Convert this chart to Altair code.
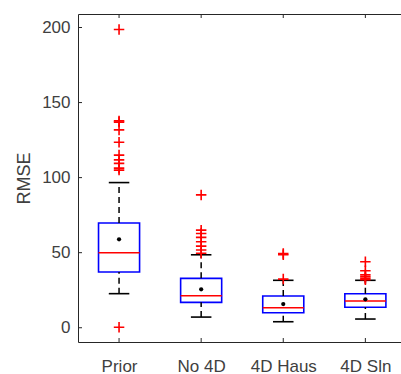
import altair as alt
import pandas as pd

categories = ["Prior", "No 4D", "4D Haus", "4D Sln"]
positions = [1, 2, 3, 4]
y_ticks = [0, 50, 100, 150, 200]
q1 = [37.1, 16.9, 10.0, 13.6]
q3 = [69.8, 32.9, 21.1, 22.6]
median = [50.0, 21.3, 13.3, 17.8]
mean = [58.9, 25.6, 15.8, 18.9]
whisk_lo = [22.7, 7.1, 4.0, 5.8]
whisk_hi = [96.7, 48.6, 31.6, 31.6]
outliers_prior = [0.3, 105.0, 106.3, 109.5, 111.8, 115.0, 123.6, 131.8, 137.0, 137.8, 198.7]
outliers_no4d = [49.6, 51.8, 54.4, 57.3, 60.2, 62.8, 65.0, 88.5]
outliers_haus = [32.4, 48.6, 49.4]
outliers_sln = [32.0, 33.0, 34.0, 35.2, 38.0, 44.0]

BOX_HALF = 0.25
CAP_HALF = 0.125
W = 323
H = 328
TICK = 4

stats = pd.DataFrame({
    "cat": categories, "pos": positions, "q1": q1, "q3": q3, "median": median,
    "mean": mean, "lo": whisk_lo, "hi": whisk_hi,
})
stats["bx1"] = stats["pos"] - BOX_HALF
stats["bx2"] = stats["pos"] + BOX_HALF
stats["cx1"] = stats["pos"] - CAP_HALF
stats["cx2"] = stats["pos"] + CAP_HALF

out_rows = []
for p, vals in zip(positions, [outliers_prior, outliers_no4d, outliers_haus, outliers_sln]):
    for v in vals:
        out_rows.append({"pos": p, "v": v})
outs = pd.DataFrame(out_rows)
yt = pd.DataFrame({"t": y_ticks})

xscale = alt.Scale(domain=[0.5, 4.434], nice=False, zero=False)
yscale = alt.Scale(domain=[-9.5, 209], nice=False, zero=False)

FONT = "Liberation Sans"
TXT = "#404040"
AX = "#262626"

label_expr = ("datum.value == 1 ? 'Prior' : datum.value == 2 ? 'No 4D' : "
              "datum.value == 3 ? '4D Haus' : '4D Sln'")


def X(field):
    return alt.X(field, type="quantitative", scale=xscale, title=None)


def Y(field):
    return alt.Y(field, type="quantitative", scale=yscale, title="RMSE")


base = alt.Chart(stats)

box = base.mark_rect(fill="white", fillOpacity=0, stroke="#0000ff", strokeWidth=1.6).encode(
    x=alt.X("bx1:Q", scale=xscale, title=None, axis=alt.Axis(
        orient="bottom", values=positions, labelExpr=label_expr, ticks=False,
        domain=False, grid=False, title=None,
        labelFont=FONT, labelFontSize=17, labelColor=TXT, labelPadding=16)),
    x2="bx2:Q",
    y=alt.Y("q1:Q", scale=yscale, title="RMSE", axis=alt.Axis(
        orient="left", values=y_ticks, ticks=False, domain=False, grid=False,
        title="RMSE",
        labelFont=FONT, labelFontSize=17, labelColor=TXT, labelPadding=8,
        titleFont=FONT, titleFontSize=18, titleFontWeight="normal", titleColor=TXT,
        titlePadding=8)),
    y2="q3:Q",
)

# inward ticks at category positions (top and bottom) and at y tick values (left)
xt_top = base.mark_rule(color=AX, strokeWidth=1).encode(
    x=X("pos"), y=alt.value(0), y2=alt.value(TICK),
)
xt_bot = base.mark_rule(color=AX, strokeWidth=1).encode(
    x=X("pos"), y=alt.value(H - TICK), y2=alt.value(H),
)
yt_left = alt.Chart(yt).mark_rule(color=AX, strokeWidth=1).encode(
    y=Y("t"), x=alt.value(0), x2=alt.value(TICK),
)

wh_hi = base.mark_rule(color="black", strokeWidth=1.5, strokeDash=[6, 4]).encode(
    x=X("pos"), y=Y("q3"), y2="hi:Q",
)
wh_lo = base.mark_rule(color="black", strokeWidth=1.5, strokeDash=[6, 4]).encode(
    x=X("pos"), y=Y("lo"), y2="q1:Q",
)

cap_hi = base.mark_rule(color="black", strokeWidth=1.6).encode(
    x=X("cx1"), x2="cx2:Q", y=Y("hi"),
)
cap_lo = base.mark_rule(color="black", strokeWidth=1.6).encode(
    x=X("cx1"), x2="cx2:Q", y=Y("lo"),
)

med = base.mark_rule(color="#ff0000", strokeWidth=1.6).encode(
    x=X("bx1"), x2="bx2:Q", y=Y("median"),
)

mean_pt = base.mark_point(filled=True, color="black", size=18, opacity=1, shape="circle").encode(
    x=X("pos"), y=Y("mean"),
)

out_pts = alt.Chart(outs).mark_point(
    shape="M-1,0L1,0M0,-1L0,1", filled=False, color="#ff0000", strokeWidth=1.6,
    size=110, opacity=1,
).encode(
    x=X("pos"), y=Y("v"),
)

chart = alt.layer(
    box, xt_top, xt_bot, yt_left, wh_hi, wh_lo, cap_hi, cap_lo, med,
    mean_pt, out_pts,
).properties(
    width=W, height=H,
    autosize=alt.AutoSizeParams(type="none"),
    padding={"left": 78, "top": 14, "right": 0, "bottom": 32},
    background="white",
).configure_view(stroke=AX, strokeWidth=1)

chart.save("out.html", embed_options={"renderer": "svg", "actions": False})
